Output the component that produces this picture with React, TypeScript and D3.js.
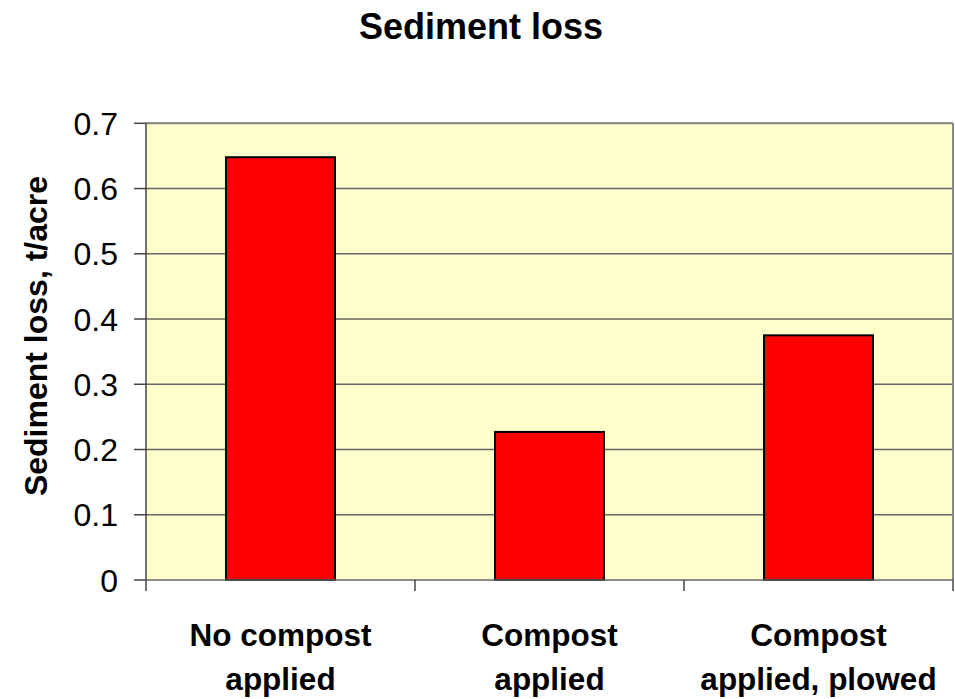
import React from "react";
import * as d3 from "d3";

const categories: string[][] = [
  ["No compost", "applied"],
  ["Compost", "applied"],
  ["Compost", "applied, plowed"],
];
const values: number[] = [0.648, 0.227, 0.375];
const yTicks: number[] = [0, 0.1, 0.2, 0.3, 0.4, 0.5, 0.6, 0.7];
const yTickLabels: string[] = ["0", "0.1", "0.2", "0.3", "0.4", "0.5", "0.6", "0.7"];

const W = 955;
const H = 699;
const left = 146;
const right = 953;
const top = 123.3;
const bottom = 580;
const FONT = "Liberation Sans, Arial, sans-serif";

export default function App() {
  const x = d3
    .scaleBand<number>()
    .domain(categories.map((_, i) => i))
    .range([left, right])
    .paddingInner(0)
    .paddingOuter(0);
  const y = d3.scaleLinear().domain([0, 0.7]).range([bottom, top]);
  const bw = x.bandwidth() * 0.405;
  const boundaries = [...categories.map((_, i) => x(i)!), right];

  return (
    <svg
      width={W}
      height={H}
      style={{ position: "absolute", left: 0, top: 0, background: "#fff" }}
    >
      <text
        x={481}
        y={39}
        textAnchor="middle"
        fontFamily={FONT}
        fontWeight="bold"
        fontSize={36}
      >
        Sediment loss
      </text>
      <rect x={left} y={top} width={right - left} height={bottom - top} fill="#FFFFCC" />
      {yTicks.slice(1).map((t) => (
        <line key={t} x1={left} x2={right} y1={y(t)} y2={y(t)} stroke="#666" strokeWidth={1.5} />
      ))}
      <line x1={left} x2={right} y1={top} y2={top} stroke="#888" strokeWidth={2} />
      <line x1={right} x2={right} y1={top} y2={bottom} stroke="#888" strokeWidth={2} />
      {values.map((v, i) => {
        const cx = x(i)! + x.bandwidth() / 2;
        return (
          <rect
            key={i}
            x={cx - bw / 2}
            y={y(v)}
            width={bw}
            height={bottom - y(v)}
            fill="#FF0000"
            stroke="#000"
            strokeWidth={2}
          />
        );
      })}
      <line x1={left} x2={right} y1={bottom} y2={bottom} stroke="#666" strokeWidth={1.5} />
      <line x1={left} x2={left} y1={top} y2={bottom} stroke="#444" strokeWidth={1.5} />
      {yTicks.map((t, i) => (
        <g key={t}>
          <line x1={134} x2={left} y1={y(t)} y2={y(t)} stroke="#444" strokeWidth={1.5} />
          <text
            x={118}
            y={y(t)}
            dy="0.36em"
            textAnchor="end"
            fontFamily={FONT}
            fontSize={32}
          >
            {yTickLabels[i]}
          </text>
        </g>
      ))}
      {boundaries.map((b, i) => (
        <line key={i} x1={b} x2={b} y1={bottom} y2={591} stroke="#444" strokeWidth={1.5} />
      ))}
      {categories.map((lines, i) => {
        const cx = x(i)! + x.bandwidth() / 2;
        return (
          <text key={i} textAnchor="middle" fontFamily={FONT} fontWeight="bold" fontSize={31.5}>
            {lines.map((l, j) => (
              <tspan key={j} x={cx} y={646 + j * 44}>
                {l}
              </tspan>
            ))}
          </text>
        );
      })}
      <text
        transform={`translate(47, 336) rotate(-90)`}
        textAnchor="middle"
        fontFamily={FONT}
        fontWeight="bold"
        fontSize={32}
      >
        Sediment loss, t/acre
      </text>
    </svg>
  );
}
